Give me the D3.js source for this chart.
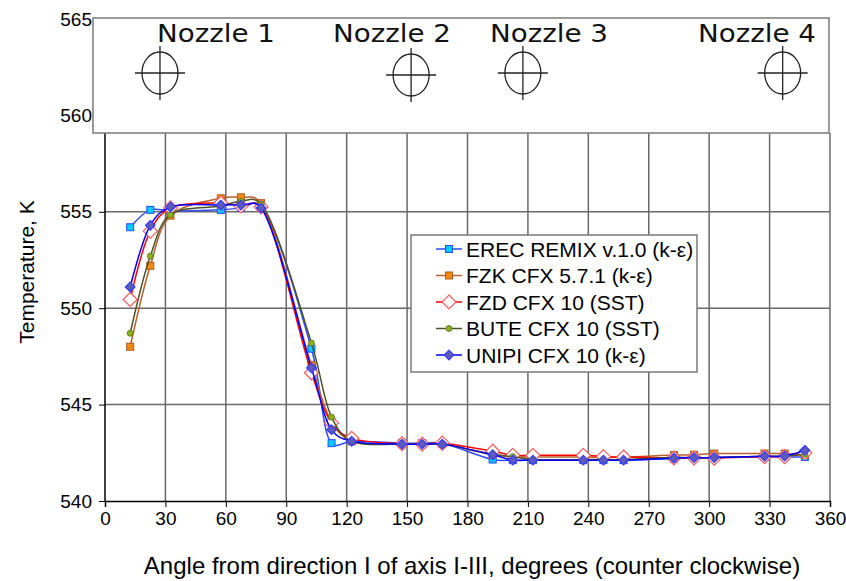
<!DOCTYPE html>
<html><head><meta charset="utf-8">
<script src="https://cdn.jsdelivr.net/npm/d3@7"></script>
<style>body{margin:0;background:#fff}svg{display:block}</style>
</head><body>
<svg id="c" width="846" height="581"></svg>
<script>
const angles = [12.5,22.5,32.5,57.5,67.5,77.5,102.5,112.5,122.5,147.5,157.5,167.5,192.5,202.5,212.5,237.5,247.5,257.5,282.5,292.5,302.5,327.5,337.5,347.5];
const erec  = [554.2,555.1,555.05,555.1,555.2,555.3,547.9,543.0,543.1,543.0,543.0,543.0,542.15,542.12,542.12,542.12,542.12,542.12,542.2,542.22,542.25,542.3,542.3,542.28];
const fzk   = [548.0,552.2,554.8,555.7,555.75,555.45,547.05,544.1,543.1,542.95,542.95,542.95,542.4,542.3,542.28,542.28,542.27,542.27,542.38,542.4,542.46,542.46,542.46,542.4];
const fzd   = [550.45,554.0,555.2,555.45,555.3,555.25,546.65,544.05,543.25,542.97,542.95,543.0,542.58,542.37,542.37,542.37,542.3,542.28,542.23,542.24,542.22,542.3,542.3,542.5];
const bute  = [548.7,552.7,554.85,555.3,555.55,555.4,548.2,544.35,543.1,542.95,542.95,542.95,542.42,542.3,542.15,542.15,542.15,542.15,542.25,542.25,542.25,542.32,542.32,542.42];
const unipi = [551.1,554.3,555.25,555.35,555.35,555.2,546.9,543.7,543.1,542.95,542.95,542.95,542.4,542.12,542.12,542.12,542.12,542.12,542.22,542.25,542.25,542.32,542.33,542.63];
const seriesNames = ["EREC REMIX v.1.0 (k-ε)","FZK CFX 5.7.1 (k-ε)","FZD CFX 10 (SST)","BUTE CFX 10 (SST)","UNIPI CFX 10 (k-ε)"];
const xTicks = [0,30,60,90,120,150,180,210,240,270,300,330,360];
const yTicks = [540,545,550,555,560,565];
const nozzleNames = ["Nozzle 1","Nozzle 2","Nozzle 3","Nozzle 4"];
const nozzleAngles = [27.3,152,207.5,336.5];

const series = [
  {name:seriesNames[0], vals:erec,  line:"#2f4bff", marker:"square", fill:"#00ccff", stroke:"#2a4cff", size:7},
  {name:seriesNames[1], vals:fzk,   line:"#b8602e", marker:"square", fill:"#f08a10", stroke:"#b05a20", size:7},
  {name:seriesNames[2], vals:fzd,   line:"#ff0000", marker:"diamond", fill:"#ffffff", stroke:"#ff5a5a", size:7},
  {name:seriesNames[3], vals:bute,  line:"#4d5326", marker:"circle", fill:"#8cb020", stroke:"#5a7018", size:3},
  {name:seriesNames[4], vals:unipi, line:"#0000ff", marker:"diamond", fill:"#5b5bb8", stroke:"#3a3aff", size:4.8}
];

const svg = d3.select("#c");
const x = d3.scaleLinear().domain([0,360]).range([105,830]);
const y = d3.scaleLinear().domain([540,565]).range([501,19]);
const font = "'Liberation Sans', Arial, sans-serif";

// grid
const gridTop = 133;
svg.append("g").selectAll("line").data(xTicks.slice(1)).join("line")
  .attr("x1",d=>x(d)).attr("x2",d=>x(d)).attr("y1",gridTop).attr("y2",y(540))
  .attr("stroke","#6a6a6a").attr("stroke-width",1.5);
svg.append("g").selectAll("line").data([545,550,555]).join("line")
  .attr("x1",x(0)).attr("x2",x(360)).attr("y1",d=>y(d)).attr("y2",d=>y(d))
  .attr("stroke","#6a6a6a").attr("stroke-width",1.5);

// axes
const xAxis = d3.axisBottom(x).tickValues(xTicks).tickSize(6).tickPadding(5);
const gx = svg.append("g").attr("transform",`translate(0,${y(540)})`).call(xAxis);
gx.select(".domain").attr("stroke","#000").attr("stroke-width",1.5);
gx.selectAll(".tick line").attr("stroke","#000");
gx.selectAll("text").attr("font-family",font).attr("font-size",19).attr("fill","#000");

const yAxis = d3.axisLeft(y).tickValues(yTicks).tickSize(6).tickPadding(7);
const gy = svg.append("g").attr("transform",`translate(${x(0)},0)`).call(yAxis);
gy.select(".domain").remove();
gy.selectAll(".tick line").attr("stroke","#000");
gy.selectAll("text").attr("font-family",font).attr("font-size",19).attr("fill","#000");
svg.append("line").attr("x1",x(0)).attr("x2",x(0)).attr("y1",gridTop).attr("y2",y(540))
  .attr("stroke","#000").attr("stroke-width",1.5);

// nozzle box
svg.append("rect").attr("x",93).attr("y",18).attr("width",736).attr("height",gridTop-18)
  .attr("fill","#fff").attr("stroke","#7a7a7a").attr("stroke-width",1.5);
const nz = svg.append("g");
nozzleNames.forEach((n,i)=>{
  const cx = x(nozzleAngles[i]), cy = i===1?75:73;
  nz.append("text").attr("x",[157,333,490,698][i]).attr("y",42)
    .attr("font-family","'DejaVu Sans', sans-serif").attr("font-size",25).attr("fill","#111")
    .attr("textLength",118).attr("lengthAdjust","spacingAndGlyphs").text(n);
  nz.append("ellipse").attr("cx",cx).attr("cy",cy).attr("rx",18).attr("ry",21)
    .attr("fill","none").attr("stroke","#222").attr("stroke-width",1.3);
  nz.append("line").attr("x1",cx-25).attr("x2",cx+25).attr("y1",cy).attr("y2",cy).attr("stroke","#222").attr("stroke-width",1.3);
  nz.append("line").attr("x1",cx).attr("x2",cx).attr("y1",cy-27).attr("y2",cy+27).attr("stroke","#222").attr("stroke-width",1.3);
});

// lines
const lineGen = d3.line().x((d,i)=>x(angles[i])).y(d=>y(d)).curve(d3.curveCatmullRom.alpha(0.35));
function drawMarker(g, s, cx, cy){
  if(s.marker==="square"){
    g.append("rect").attr("x",cx-s.size/2).attr("y",cy-s.size/2).attr("width",s.size).attr("height",s.size)
      .attr("fill",s.fill).attr("stroke",s.stroke).attr("stroke-width",1);
  } else if(s.marker==="diamond"){
    const r=s.size;
    g.append("path").attr("d",`M${cx},${cy-r}L${cx+r},${cy}L${cx},${cy+r}L${cx-r},${cy}Z`)
      .attr("fill",s.fill).attr("stroke",s.stroke).attr("stroke-width",1.2);
  } else {
    g.append("circle").attr("cx",cx).attr("cy",cy).attr("r",s.size)
      .attr("fill",s.fill).attr("stroke",s.stroke).attr("stroke-width",0.8);
  }
}
series.forEach(s=>{
  const g = svg.append("g");
  g.append("path").attr("d",lineGen(s.vals)).attr("fill","none").attr("stroke",s.line).attr("stroke-width",1.5);
  s.vals.forEach((v,i)=>drawMarker(g,s,x(angles[i]),y(v)));
});

// legend
const lg = svg.append("g");
lg.append("rect").attr("x",411).attr("y",235).attr("width",286).attr("height",137)
  .attr("fill","#fff").attr("stroke","#7a7a7a").attr("stroke-width",1.5);
series.forEach((s,i)=>{
  const cy = 249 + i*26.5;
  lg.append("line").attr("x1",436).attr("x2",462).attr("y1",cy).attr("y2",cy).attr("stroke",s.line).attr("stroke-width",1.5);
  drawMarker(lg,s,449,cy);
  lg.append("text").attr("x",466).attr("y",cy).attr("dy","0.36em").attr("font-family",font)
    .attr("font-size",21).attr("fill","#000").text(s.name);
});

// titles
svg.append("text").attr("x",472).attr("y",574).attr("text-anchor","middle").attr("font-family",font)
  .attr("font-size",24).attr("fill","#000").text("Angle from direction I of axis I-III, degrees (counter clockwise)");
svg.append("text").attr("transform","translate(34,272) rotate(-90)").attr("text-anchor","middle").attr("font-family",font)
  .attr("font-size",21).attr("fill","#000").text("Temperature, K");
</script>
</body></html>
